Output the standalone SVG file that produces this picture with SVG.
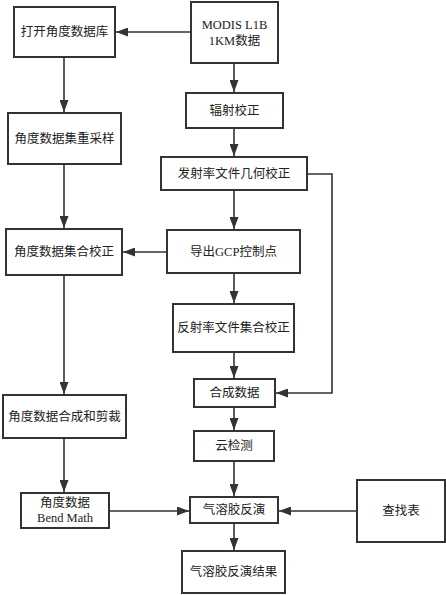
<svg xmlns="http://www.w3.org/2000/svg" width="446" height="595" viewBox="0 0 446 595">
<style>
.box{fill:#fff;stroke:#333;stroke-width:2}
.ln{fill:none;stroke:#333;stroke-width:1.6}
text{font-family:"Liberation Serif","Noto Sans CJK SC",serif;font-size:12.5px;fill:#222;text-anchor:middle;dominant-baseline:central}
</style>
<defs>
<marker id="ah" markerUnits="userSpaceOnUse" markerWidth="13" markerHeight="9" refX="12" refY="4.5" orient="auto">
<path d="M0,0 L12,4.5 L0,9 z" fill="#333"/>
</marker>
</defs>
<rect width="446" height="595" fill="#fff"/>
<g id="connectors">
<path class="ln" d="M191,32 H116" marker-end="url(#ah)"/>
<path class="ln" d="M64,57 V112" marker-end="url(#ah)"/>
<path class="ln" d="M64,164 V228" marker-end="url(#ah)"/>
<path class="ln" d="M64,275 V394" marker-end="url(#ah)"/>
<path class="ln" d="M64,438 V492" marker-end="url(#ah)"/>
<path class="ln" d="M109,511 H189" marker-end="url(#ah)"/>
<path class="ln" d="M234,63 V92" marker-end="url(#ah)"/>
<path class="ln" d="M234,128 V156" marker-end="url(#ah)"/>
<path class="ln" d="M234,190 V229" marker-end="url(#ah)"/>
<path class="ln" d="M167,252 H123" marker-end="url(#ah)"/>
<path class="ln" d="M234,273 V303" marker-end="url(#ah)"/>
<path class="ln" d="M234,352 V378" marker-end="url(#ah)"/>
<path class="ln" d="M307,174 H332 V393 H276" marker-end="url(#ah)"/>
<path class="ln" d="M234,407 V430" marker-end="url(#ah)"/>
<path class="ln" d="M234,461 V496" marker-end="url(#ah)"/>
<path class="ln" d="M357,511 H279" marker-end="url(#ah)"/>
<path class="ln" d="M234,523 V550" marker-end="url(#ah)"/>
</g>
<g id="open"><rect class="box" x="14" y="7" width="101" height="50"/><text x="64.5" y="32">打开角度数据库</text></g>
<g id="modis"><rect class="box" x="191" y="2" width="87" height="61"/><text x="234.5" y="25" font-size="13">MODIS L1B</text><text x="234.5" y="41" font-size="13">1KM数据</text></g>
<g id="resample"><rect class="box" x="8" y="113" width="113" height="51"/><text x="64.5" y="138.5">角度数据集重采样</text></g>
<g id="rad"><rect class="box" x="186" y="93" width="97" height="35"/><text x="234.5" y="110.5">辐射校正</text></g>
<g id="geo"><rect class="box" x="161" y="157" width="146" height="33"/><text x="234" y="173.5">发射率文件几何校正</text></g>
<g id="gcp"><rect class="box" x="167" y="230" width="133" height="43"/><text x="233.5" y="251.5">导出GCP控制点</text></g>
<g id="angcorr"><rect class="box" x="6" y="229" width="116" height="46"/><text x="64" y="252">角度数据集合校正</text></g>
<g id="reflcorr"><rect class="box" x="173" y="304" width="121" height="48"/><text x="233.5" y="328">反射率文件集合校正</text></g>
<g id="merge"><rect class="box" x="194" y="379" width="81" height="28"/><text x="234.5" y="393">合成数据</text></g>
<g id="synth"><rect class="box" x="3" y="395" width="123" height="43"/><text x="64.5" y="416.5">角度数据合成和剪裁</text></g>
<g id="cloud"><rect class="box" x="194" y="431" width="80" height="30"/><text x="234" y="446">云检测</text></g>
<g id="bend"><rect class="box" x="21" y="493" width="88" height="35"/><text x="65" y="503">角度数据</text><text x="65" y="518" font-size="13">Bend Math</text></g>
<g id="aero"><rect class="box" x="190" y="497" width="88" height="26"/><text x="234" y="510">气溶胶反演</text></g>
<g id="lut"><rect class="box" x="357" y="480" width="88" height="62"/><text x="401" y="511">查找表</text></g>
<g id="result"><rect class="box" x="182" y="551" width="103" height="42"/><text x="233.5" y="572">气溶胶反演结果</text></g>
</svg>
